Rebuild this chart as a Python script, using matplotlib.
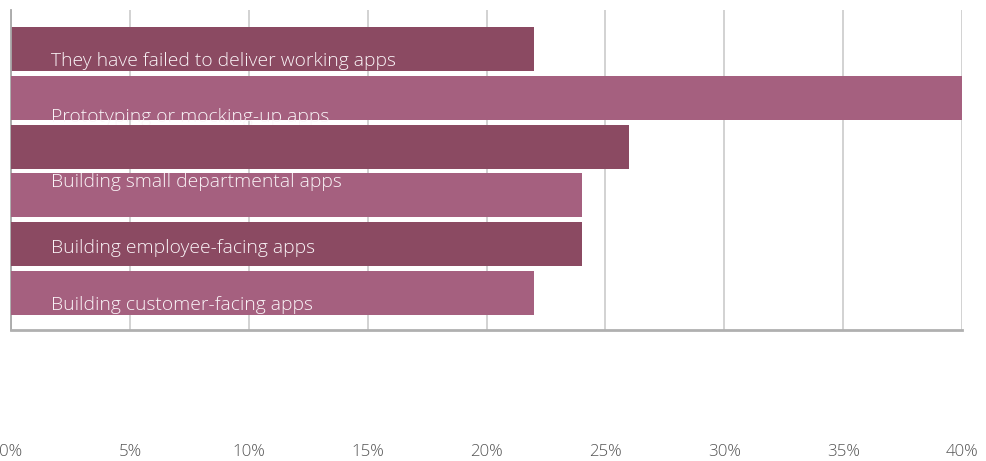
import matplotlib
matplotlib.use("Agg")
import matplotlib.pyplot as plt
from matplotlib import font_manager

# ---- data ----
values = [22, 40, 26, 24, 24, 22]
labels = [
    "They have failed to deliver working apps",
    "Prototyping or mocking-up apps",
    "",
    "Building small departmental apps",
    "Building employee-facing apps",
    "Building customer-facing apps",
]
tick_values = [0, 5, 10, 15, 20, 25, 30, 35, 40]
tick_labels = ["0%", "5%", "10%", "15%", "20%", "25%", "30%", "35%", "40%"]

# ---- styles ----
colors = ["#8b4a62", "#a5607f"]
label_baseline_offsets = [0.342, 0.496, 0.0, -0.178, 0.18, 0.34]

avail = {f.name for f in font_manager.fontManager.ttflist}
family = "Open Sans" if "Open Sans" in avail else "DejaVu Sans"
plt.rcParams["font.family"] = [family, "DejaVu Sans"]

fig = plt.figure(figsize=(9.87, 4.61), dpi=100)
W, H = 987, 461
ax = fig.add_axes([11 / W, 1 - 330 / H, (962 - 11) / W, (330 - 10) / H])

for i, (v, lab) in enumerate(zip(values, labels)):
    ax.barh(i, v, height=0.9, color=colors[i % 2], zorder=2 + 2 * i)
    if lab:
        ax.text(1.68, i + label_baseline_offsets[i], lab, color="#fbf5f8",
                fontsize=13.9, fontweight="light", va="baseline", ha="left",
                zorder=3 + 2 * i)

ax.set_xlim(0, 40)
ax.set_ylim(5.76, -0.80)
ax.set_yticks([])
ax.set_xticks(tick_values)
ax.set_xticklabels(tick_labels, color="#555555", fontsize=12.2, fontweight="light")
ax.tick_params(axis="x", length=0, pad=82)
ax.grid(axis="x", color="#cbcbcb", linewidth=1.2, zorder=0)
ax.set_axisbelow(True)
for s in ["top", "right"]:
    ax.spines[s].set_visible(False)
ax.spines["left"].set_color("#a8a8a8")
ax.spines["left"].set_linewidth(1.3)
ax.spines["bottom"].set_color("#b0b0b0")
ax.spines["bottom"].set_linewidth(2)

fig.savefig("out.png", dpi=100)
